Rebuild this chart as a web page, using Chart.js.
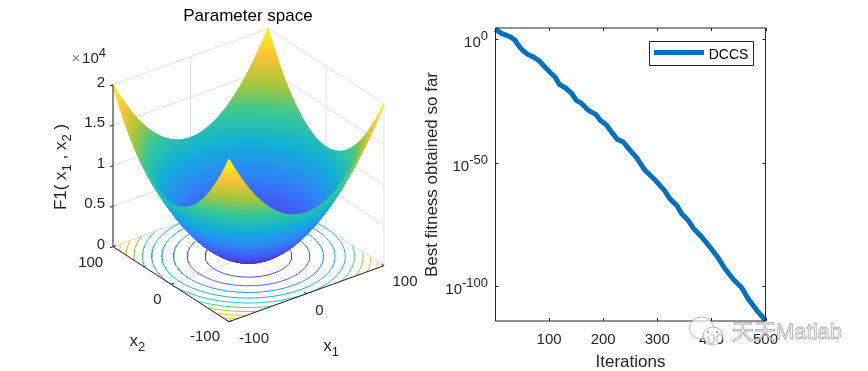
<!DOCTYPE html>
<html>
<head>
<meta charset="utf-8">
<script src="https://cdn.jsdelivr.net/npm/chart.js@4"></script>
<style>
  html, body { margin: 0; padding: 0; background: #fff; }
  canvas { position: absolute; top: 0; }
  #surfacePanel { left: 0; }
  #fitnessPanel { left: 420px; }
</style>
</head>
<body>
<canvas id="surfacePanel" width="420" height="371"></canvas>
<canvas id="fitnessPanel" width="448" height="371"></canvas>
<script>
// values
const iterations = [1, 12, 28, 37, 43, 51, 60, 71, 83, 92, 102, 111, 119, 130, 142, 150, 160, 172, 187, 194, 206,
    218, 226, 237, 248, 262, 277, 296, 314, 323, 336, 345, 357, 367, 382, 397, 411, 425, 440, 456, 468, 484, 500];
const bestFitness = [1.1e4, 2e2, 9, 4e-1, 4e-3, 3e-5, 8e-7, 6e-8, 1e-9, 6e-12, 3e-14, 5e-16, 5e-19, 2e-20, 1e-22,
    2e-25, 1e-26, 2e-29, 3e-31, 2e-33, 2e-35, 6e-39, 3e-41, 2.5e-42, 3e-45, 1e-48, 1e-53, 1e-57, 4e-62, 3e-65,
    6e-68, 2.5e-71, 5e-74, 2.5e-77, 1e-80, 1e-84, 1e-88, 1.6e-93, 1e-97, 3e-101, 1e-105, 2e-110, 1.6e-114];
const iterationTicks = [100, 200, 300, 400, 500];
const fitnessTicks = [1, 1e-50, 1e-100];
const fitnessTickExponents = ["0", "-50", "-100"];

const x1Grid = [-100, -90, -80, -70, -60, -50, -40, -30, -20, -10, 0, 10, 20, 30, 40, 50, 60, 70, 80, 90, 100];
const x2Grid = [-100, -90, -80, -70, -60, -50, -40, -30, -20, -10, 0, 10, 20, 30, 40, 50, 60, 70, 80, 90, 100];
const surfaceZ = [
    [20000,18100,16400,14900,13600,12500,11600,10900,10400,10100,10000,10100,10400,10900,11600,12500,13600,14900,16400,18100,20000],
    [18100,16200,14500,13000,11700,10600,9700,9000,8500,8200,8100,8200,8500,9000,9700,10600,11700,13000,14500,16200,18100],
    [16400,14500,12800,11300,10000,8900,8000,7300,6800,6500,6400,6500,6800,7300,8000,8900,10000,11300,12800,14500,16400],
    [14900,13000,11300,9800,8500,7400,6500,5800,5300,5000,4900,5000,5300,5800,6500,7400,8500,9800,11300,13000,14900],
    [13600,11700,10000,8500,7200,6100,5200,4500,4000,3700,3600,3700,4000,4500,5200,6100,7200,8500,10000,11700,13600],
    [12500,10600,8900,7400,6100,5000,4100,3400,2900,2600,2500,2600,2900,3400,4100,5000,6100,7400,8900,10600,12500],
    [11600,9700,8000,6500,5200,4100,3200,2500,2000,1700,1600,1700,2000,2500,3200,4100,5200,6500,8000,9700,11600],
    [10900,9000,7300,5800,4500,3400,2500,1800,1300,1000,900,1000,1300,1800,2500,3400,4500,5800,7300,9000,10900],
    [10400,8500,6800,5300,4000,2900,2000,1300,800,500,400,500,800,1300,2000,2900,4000,5300,6800,8500,10400],
    [10100,8200,6500,5000,3700,2600,1700,1000,500,200,100,200,500,1000,1700,2600,3700,5000,6500,8200,10100],
    [10000,8100,6400,4900,3600,2500,1600,900,400,100,0,100,400,900,1600,2500,3600,4900,6400,8100,10000],
    [10100,8200,6500,5000,3700,2600,1700,1000,500,200,100,200,500,1000,1700,2600,3700,5000,6500,8200,10100],
    [10400,8500,6800,5300,4000,2900,2000,1300,800,500,400,500,800,1300,2000,2900,4000,5300,6800,8500,10400],
    [10900,9000,7300,5800,4500,3400,2500,1800,1300,1000,900,1000,1300,1800,2500,3400,4500,5800,7300,9000,10900],
    [11600,9700,8000,6500,5200,4100,3200,2500,2000,1700,1600,1700,2000,2500,3200,4100,5200,6500,8000,9700,11600],
    [12500,10600,8900,7400,6100,5000,4100,3400,2900,2600,2500,2600,2900,3400,4100,5000,6100,7400,8900,10600,12500],
    [13600,11700,10000,8500,7200,6100,5200,4500,4000,3700,3600,3700,4000,4500,5200,6100,7200,8500,10000,11700,13600],
    [14900,13000,11300,9800,8500,7400,6500,5800,5300,5000,4900,5000,5300,5800,6500,7400,8500,9800,11300,13000,14900],
    [16400,14500,12800,11300,10000,8900,8000,7300,6800,6500,6400,6500,6800,7300,8000,8900,10000,11300,12800,14500,16400],
    [18100,16200,14500,13000,11700,10600,9700,9000,8500,8200,8100,8200,8500,9000,9700,10600,11700,13000,14500,16200,18100],
    [20000,18100,16400,14900,13600,12500,11600,10900,10400,10100,10000,10100,10400,10900,11600,12500,13600,14900,16400,18100,20000],
];
const x1Ticks = [-100, 0, 100];
const x2Ticks = [-100, 0, 100];
const zTicks = [0, 5000, 10000, 15000, 20000];
const zTickLabels = ["0", "0.5", "1", "1.5", "2"];
const contourLevels = [2000, 4000, 6000, 8000, 10000, 12000, 14000, 16000, 18000];

const parula = [
    [62, 38, 168], [72, 82, 244], [46, 135, 247], [18, 177, 214],
    [55, 200, 151], [171, 199, 57], [254, 195, 56], [249, 251, 21],
];
const TEXT = "#262626";
const FONT = "Liberation Sans";
const GRID = "#dfdfdf";
const REFINE = 4;

Chart.defaults.font.family = FONT;

function parulaColor(t) {
    const p = Math.min(Math.max(t, 0), 1) * (parula.length - 1);
    const i = Math.min(Math.floor(p), parula.length - 2);
    const c = parula[i].map((v, k) => Math.round(v + (parula[i + 1][k] - v) * (p - i)));
    return `rgb(${c[0]},${c[1]},${c[2]})`;
}

// fixed view of the box: x1 runs front->right, x2 front->left, z goes straight up
function project(x1, x2, z) {
    const a = (x1 + 100) / 200;
    const b = (x2 + 100) / 200;
    return {
        x: 229 + a * 155 - b * 116,
        y: 321.7 - a * 56 - b * 75 - z / 20000 * 162,
    };
}

// smooth a line of values between the table entries
function refineLine(values) {
    const v = [3 * values[0] - 3 * values[1] + values[2], ...values,
        3 * values.at(-1) - 3 * values.at(-2) + values.at(-3)];
    const out = [];
    for (let i = 1; i < v.length - 2; i++) {
        for (let s = 0; s < REFINE; s++) {
            const t = s / REFINE;
            out.push(v[i] + 0.5 * t * (v[i + 1] - v[i - 1]
                + t * (2 * v[i - 1] - 5 * v[i] + 4 * v[i + 1] - v[i + 2]
                + t * (3 * v[i] - v[i - 1] - 3 * v[i + 1] + v[i + 2]))));
        }
    }
    out.push(values.at(-1));
    return out;
}

const fineX1 = refineLine(x1Grid);
const fineX2 = refineLine(x2Grid);
const byRow = surfaceZ.map(refineLine);
const fineZ = fineX2.map((_, j) => refineLine(byRow.map((row) => row[j])));
const zAt = (i, j) => fineZ[j][i];
const N = fineX1.length;

const surfacePoints = [];
for (let i = 0; i < N; i++) {
    for (let j = 0; j < N; j++) {
        surfacePoints.push(project(fineX1[i], fineX2[j], zAt(i, j)));
    }
}

// crossings of a level on the grid lines, chained by angle round the minimum
function contourLine(level) {
    const hits = [];
    const addHit = (x1a, x2a, za, x1b, x2b, zb) => {
        if ((za < level) !== (zb < level)) {
            const t = (level - za) / (zb - za);
            const x1 = x1a + (x1b - x1a) * t;
            const x2 = x2a + (x2b - x2a) * t;
            hits.push({ x1: x1, x2: x2, angle: Math.atan2(x2, x1) });
        }
    };
    for (let i = 0; i < N; i++) {
        for (let j = 0; j < N; j++) {
            if (i < N - 1) addHit(fineX1[i], fineX2[j], zAt(i, j), fineX1[i + 1], fineX2[j], zAt(i + 1, j));
            if (j < N - 1) addHit(fineX1[i], fineX2[j], zAt(i, j), fineX1[i], fineX2[j + 1], zAt(i, j + 1));
        }
    }
    hits.sort((a, b) => a.angle - b.angle);
    const pts = [];
    hits.forEach((h, k) => {
        if (k > 0 && h.angle - hits[k - 1].angle > 0.3) pts.push({ x: NaN, y: NaN });
        pts.push(project(h.x1, h.x2, 0));
    });
    if (hits[0].angle + 2 * Math.PI - hits.at(-1).angle < 0.3) pts.push(project(hits[0].x1, hits[0].x2, 0));
    return pts;
}

function segmentsOf(list) {
    const pts = [];
    list.forEach(([a, b]) => pts.push(project(...a), project(...b), { x: NaN, y: NaN }));
    return pts;
}

const gridSegments = [];
x1Ticks.forEach((t) => {
    gridSegments.push([[t, -100, 0], [t, 100, 0]]);
    gridSegments.push([[t, 100, 0], [t, 100, 20000]]);
});
x2Ticks.forEach((t) => {
    gridSegments.push([[-100, t, 0], [100, t, 0]]);
    gridSegments.push([[100, t, 0], [100, t, 20000]]);
});
zTicks.forEach((z) => {
    gridSegments.push([[-100, 100, z], [100, 100, z]]);
    gridSegments.push([[100, 100, z], [100, -100, z]]);
});

const axisSegments = [
    [[-100, -100, 0], [100, -100, 0]],
    [[-100, -100, 0], [-100, 100, 0]],
    [[-100, 100, 0], [-100, 100, 20000]],
];
x1Ticks.forEach((t) => axisSegments.push([[t, -100, 0], [t, -96, 0]]));
x2Ticks.forEach((t) => axisSegments.push([[-100, t, 0], [-96, t, 0]]));
zTicks.forEach((z) => axisSegments.push([[-100, 100, z], [-104, 100, z]]));

class SurfaceController extends Chart.ScatterController {
    draw() {
        const ctx = this.chart.ctx;
        const pts = this.getMeta().data;
        ctx.save();
        ctx.lineWidth = 1.5;
        ctx.lineJoin = "round";
        // back corner first so the front rim ends up on top
        for (let i = N - 2; i >= 0; i--) {
            for (let j = N - 2; j >= 0; j--) {
                const z = (zAt(i, j) + zAt(i + 1, j) + zAt(i, j + 1) + zAt(i + 1, j + 1)) / 4;
                const color = parulaColor(z / 20000);
                const a = pts[i * N + j];
                const b = pts[(i + 1) * N + j];
                const c = pts[(i + 1) * N + j + 1];
                const d = pts[i * N + j + 1];
                ctx.beginPath();
                ctx.moveTo(a.x, a.y);
                ctx.lineTo(b.x, b.y);
                ctx.lineTo(c.x, c.y);
                ctx.lineTo(d.x, d.y);
                ctx.closePath();
                ctx.fillStyle = color;
                ctx.strokeStyle = color;
                ctx.fill();
                ctx.stroke();
            }
        }
        ctx.restore();
    }
}
SurfaceController.id = "surface";
SurfaceController.defaults = Chart.ScatterController.defaults;
Chart.register(SurfaceController);

// text with sub/superscripts: runs are [text, size, dy]
function drawRuns(ctx, runs, x, y, opts = {}) {
    ctx.save();
    ctx.translate(x, y);
    if (opts.rotate) ctx.rotate(opts.rotate);
    ctx.fillStyle = opts.color || TEXT;
    ctx.textBaseline = "alphabetic";
    ctx.textAlign = "left";
    let total = 0;
    const widths = runs.map(([text, size]) => {
        ctx.font = `${size}px "${FONT}"`;
        const w = ctx.measureText(text).width;
        total += w;
        return w;
    });
    let cx = opts.align === "right" ? -total : -total / 2;
    runs.forEach(([text, size, dy], i) => {
        ctx.font = `${size}px "${FONT}"`;
        ctx.fillText(text, cx, dy || 0);
        cx += widths[i];
    });
    ctx.restore();
}

const surfaceText = {
    id: "surfaceText",
    afterDraw(chart) {
        const ctx = chart.ctx;
        const sx = chart.scales.x;
        const sy = chart.scales.y;
        const at = (x1, x2, z) => {
            const p = project(x1, x2, z);
            return { x: sx.getPixelForValue(p.x), y: sy.getPixelForValue(p.y) };
        };
        drawRuns(ctx, [["Parameter space", 17]], 248, 21, { color: "#000" });
        zTicks.forEach((z, i) => {
            const p = at(-100, 100, z);
            drawRuns(ctx, [[zTickLabels[i], 15]], p.x - 8, p.y + 2, { align: "right" });
        });
        drawRuns(ctx, [["\u00d7", 15]], 76, 63, { color: "#7a7a7a" });
        drawRuns(ctx, [["10", 15], ["4", 13, -6]], 94, 62.5);
        drawRuns(ctx, [["100", 15]], 90.7, 267);
        drawRuns(ctx, [["0", 15]], 157.3, 304);
        drawRuns(ctx, [["-100", 15]], 205, 340.5);
        drawRuns(ctx, [["-100", 15]], 254, 343);
        drawRuns(ctx, [["0", 15]], 319.3, 315);
        drawRuns(ctx, [["100", 15]], 405, 286);
        drawRuns(ctx, [["x", 17], ["2", 13, 5]], 137.3, 346);
        drawRuns(ctx, [["x", 17], ["1", 13, 5]], 331, 351);
        drawRuns(ctx, [["F1( x", 17], ["1", 13, 5], [" , x", 17], ["2", 13, 5], [" )", 17]], 66, 167,
            { rotate: -Math.PI / 2 });
    },
};

new Chart(document.getElementById("surfacePanel"), {
    type: "scatter",
    data: {
        datasets: [
            { data: segmentsOf(axisSegments), showLine: true, borderColor: "#262626", borderWidth: 1, pointRadius: 0 },
            { type: "surface", data: surfacePoints, pointRadius: 0 },
            ...contourLevels.map((level) => ({
                data: contourLine(level),
                showLine: true,
                borderColor: parulaColor(level / 20000),
                borderWidth: 1,
                pointRadius: 0,
            })),
            { data: segmentsOf(gridSegments), showLine: true, borderColor: GRID, borderWidth: 1, pointRadius: 0 },
        ],
    },
    options: {
        responsive: false,
        animation: false,
        events: [],
        layout: { padding: 0 },
        plugins: { legend: { display: false }, tooltip: { enabled: false } },
        scales: {
            x: { type: "linear", display: false, min: 0, max: 420 },
            y: { type: "linear", display: false, min: 0, max: 371, reverse: true },
        },
    },
    plugins: [surfaceText],
});

const fitnessFrame = {
    id: "fitnessFrame",
    afterDatasetsDraw(chart) {
        const ctx = chart.ctx;
        const { left, right, top, bottom } = chart.chartArea;
        const sx = chart.scales.x;
        const sy = chart.scales.y;
        ctx.save();
        ctx.strokeStyle = TEXT;
        ctx.lineWidth = 1;
        ctx.beginPath();
        ctx.rect(left, top, right - left, bottom - top);
        iterationTicks.forEach((t) => {
            const x = Math.round(sx.getPixelForValue(t)) + 0.5;
            ctx.moveTo(x, bottom);
            ctx.lineTo(x, bottom - 3);
            ctx.moveTo(x, top);
            ctx.lineTo(x, top + 3);
        });
        fitnessTicks.forEach((t, i) => {
            const y = Math.round(sy.getPixelForValue(t)) + 0.5;
            ctx.moveTo(left, y);
            ctx.lineTo(left + 3, y);
            ctx.moveTo(right, y);
            ctx.lineTo(right - 3, y);
            drawRuns(ctx, [["10", 15], [fitnessTickExponents[i], 13, -7]], left - 7.5, y + 7, { align: "right" });
        });
        ctx.stroke();

        // legend box
        ctx.fillStyle = "#fff";
        ctx.beginPath();
        ctx.rect(229.5, 41.5, 104, 24);
        ctx.fill();
        ctx.stroke();
        ctx.strokeStyle = "#0072BD";
        ctx.lineWidth = 5;
        ctx.beginPath();
        ctx.moveTo(234, 52.5);
        ctx.lineTo(284, 52.5);
        ctx.stroke();
        ctx.restore();
        drawRuns(ctx, [[chart.data.datasets[0].label, 14]], 308.5, 59, { color: "#000" });

        // watermark
        ctx.save();
        ctx.strokeStyle = "rgba(125,125,125,0.65)";
        ctx.fillStyle = "rgba(255,255,255,0.7)";
        ctx.lineWidth = 0.8;
        [[281.5, 328, 12, 11], [293, 336, 10, 9]].forEach(([x, y, rx, ry]) => {
            ctx.beginPath();
            ctx.ellipse(x, y, rx, ry, 0, 0, Math.PI * 2);
            ctx.fill();
            ctx.stroke();
        });
        ctx.fillStyle = "rgba(125,125,125,0.65)";
        [[288, 332], [297, 332]].forEach(([x, y]) => {
            ctx.beginPath();
            ctx.arc(x, y, 1.2, 0, Math.PI * 2);
            ctx.fill();
        });
        ctx.font = `22px "${FONT}", "Noto Sans CJK SC"`;
        ctx.textBaseline = "middle";
        ctx.textAlign = "left";
        ctx.fillStyle = "rgba(255,255,255,0.65)";
        ctx.fillText("\u5929\u5929Matlab", 312, 333);
        ctx.strokeText("\u5929\u5929Matlab", 312, 333);
        ctx.restore();
    },
};

new Chart(document.getElementById("fitnessPanel"), {
    type: "line",
    data: {
        datasets: [{
            label: "DCCS",
            data: iterations.map((x, i) => ({ x: x, y: bestFitness[i] })),
            borderColor: "#0072BD",
            borderWidth: 5,
            pointRadius: 0,
            tension: 0,
            clip: false,
        }],
    },
    options: {
        responsive: false,
        animation: false,
        events: [],
        layout: { padding: { left: 0, right: 102.5, top: 28, bottom: 0 } },
        plugins: { legend: { display: false }, tooltip: { enabled: false } },
        scales: {
            x: {
                type: "linear",
                min: 1,
                max: 500,
                grid: { display: false },
                border: { display: false },
                afterBuildTicks: (scale) => { scale.ticks = iterationTicks.map((v) => ({ value: v })); },
                afterFit: (scale) => { scale.height = 50; },
                ticks: { color: TEXT, font: { size: 15 }, maxRotation: 0, autoSkip: false, padding: 2 },
                title: {
                    display: true,
                    text: "Iterations",
                    color: TEXT,
                    font: { size: 17 },
                    padding: { top: 0, bottom: -2 },
                },
            },
            y: {
                type: "logarithmic",
                min: Math.pow(10, -114),
                max: Math.pow(10, 4.5),
                grid: { display: false },
                border: { display: false },
                afterBuildTicks: (scale) => { scale.ticks = fitnessTicks.map((v) => ({ value: v })); },
                afterFit: (scale) => { scale.width = 75.5; },
                ticks: { display: false },
                title: {
                    display: true,
                    text: "Best fitness obtained so far",
                    color: TEXT,
                    font: { size: 17 },
                    padding: { top: 2, bottom: 0 },
                },
            },
        },
    },
    plugins: [fitnessFrame],
});
</script>
</body>
</html>
